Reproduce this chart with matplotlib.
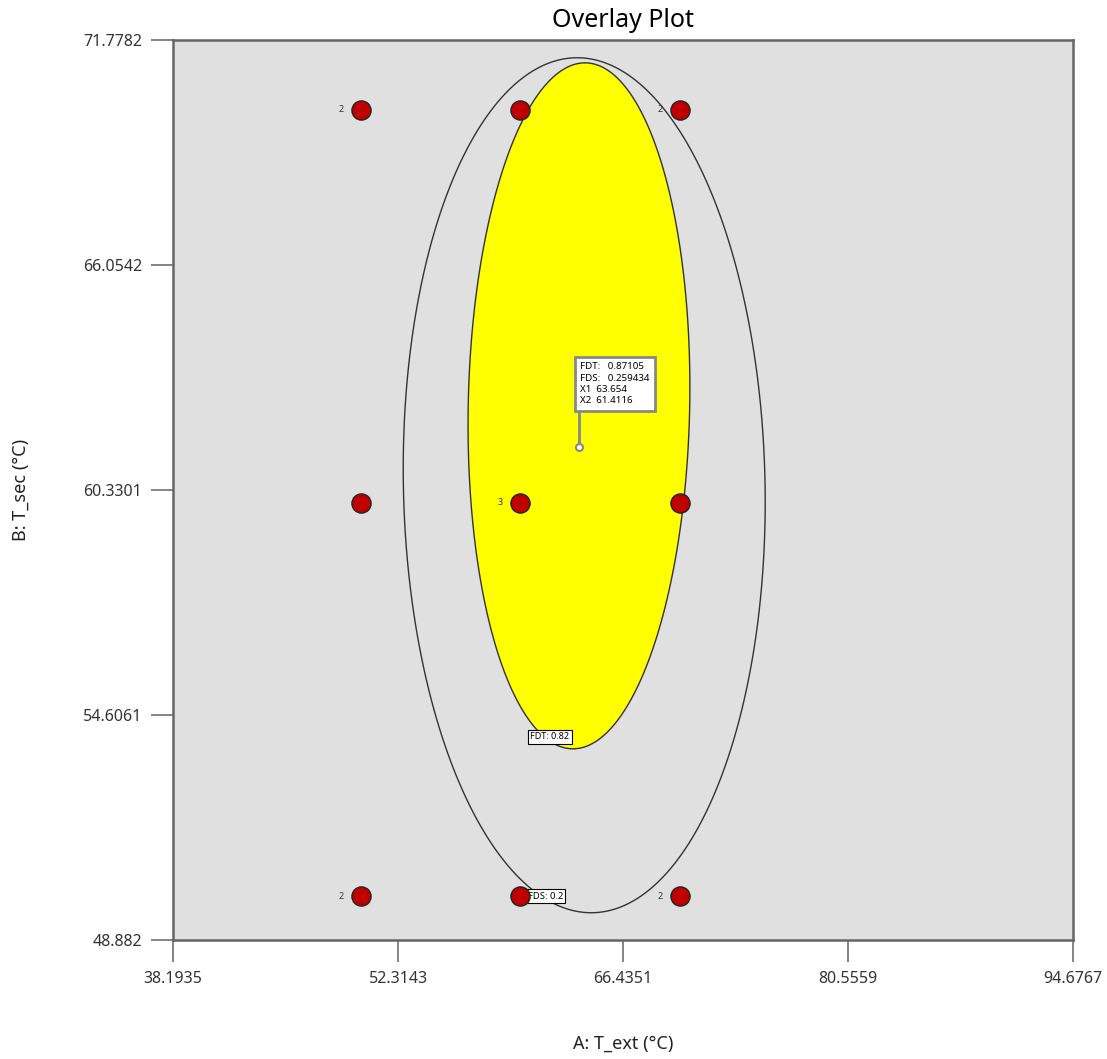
import matplotlib
matplotlib.use("Agg")
import numpy as np
import matplotlib.pyplot as plt
from matplotlib.patches import Polygon

plt.rcParams['font.family'] = ['Noto Sans', 'DejaVu Sans']

# design points (A: T_ext, B: T_sec) and replicate counts
pt_x = [50, 60, 70, 50, 60, 70, 50, 60, 70]
pt_y = [70, 70, 70, 60, 60, 60, 50, 50, 50]
pt_n = [2, 1, 2, 1, 3, 1, 2, 1, 2]

x_ticks = [38.1935, 52.3143, 66.4351, 80.5559, 94.6767]
y_ticks = [48.882, 54.6061, 60.3301, 66.0542, 71.7782]

# contour regions: centre x, centre y, width, height, x-lean of the top
fdt_region = (63.67, 62.47, 13.9, 17.45, 0.38)
fds_region = (64.0, 60.45, 22.7, 21.75, -0.44)

# flag readout
flag_x, flag_y = 63.654, 61.4116
flag_fdt, flag_fds = 0.87105, 0.259434


def region_outline(cx, cy, w, h, lean, n=400):
    t = np.linspace(0, 2 * np.pi, n)
    xs = cx + w / 2 * np.cos(t) + lean * np.sin(t)
    ys = cy + h / 2 * np.sin(t)
    return np.column_stack([xs, ys])


fig = plt.figure(figsize=(11.07, 10.59), dpi=100)
ax = fig.add_axes([0.1563, 0.1124, 0.813, 0.8499])
ax.set_facecolor('#e0e0e0')

ax.add_patch(Polygon(region_outline(*fdt_region), closed=True, facecolor='#ffff00',
                     edgecolor='#333333', lw=1.0, zorder=2))
ax.add_patch(Polygon(region_outline(*fds_region), closed=True, facecolor='none',
                     edgecolor='#333333', lw=1.0, zorder=3))

# contour labels
ax.text(60.62, 54.05, 'FDT: 0.82', fontsize=6.5, ha='left', va='center', zorder=4,
        bbox=dict(boxstyle='square,pad=0.25', fc='white', ec='black', lw=0.8))
ax.text(60.45, 50.0, 'FDS: 0.2', fontsize=6.8, ha='left', va='center', zorder=4,
        bbox=dict(boxstyle='square,pad=0.25', fc='white', ec='black', lw=0.8))

ax.scatter(pt_x, pt_y, s=190, c='#c00000', edgecolors='#222222',
           linewidths=1.0, zorder=5)
for x, y, n in zip(pt_x, pt_y, pt_n):
    if n > 1:
        ax.annotate(str(n), (x, y), xytext=(-14.5, 0), textcoords='offset points',
                    fontsize=6.5, ha='center', va='center', color='#333333', zorder=6)

# flag
ax.plot([flag_x, flag_x], [flag_y, flag_y + 0.87], color='#888888', lw=2, zorder=6)
ax.plot(flag_x, flag_y, 'o', ms=5, mfc='white', mec='#888888', mew=1.5, zorder=7)
flag_text = ('FDT:   %.5f\nFDS:   %.6f\nX1  %.3f\nX2  %.4f'
             % (flag_fdt, flag_fds, flag_x, flag_y))
ax.text(flag_x + 0.08, flag_y + 1.62, flag_text, fontsize=7, ha='left', va='center',
        linespacing=1.35, zorder=7,
        bbox=dict(boxstyle='square,pad=0.55', fc='white', ec='#888888', lw=2))

ax.set_xlim(x_ticks[0], x_ticks[-1])
ax.set_ylim(y_ticks[0], y_ticks[-1])
ax.set_xticks(x_ticks)
ax.set_yticks(y_ticks)
ax.set_xticklabels(['%g' % v for v in x_ticks])
ax.set_yticklabels(['%g' % v for v in y_ticks])
ax.tick_params(direction='out', length=16, width=1.2, color='#707070',
               labelsize=11.5, labelcolor='#333333', pad=6)
for s in ax.spines.values():
    s.set_color('#666666')
    s.set_linewidth(1.8)

ax.set_title('Overlay Plot', fontsize=18, pad=9.5)
ax.set_xlabel('A: T_ext (°C)', fontsize=13, color='#222222')
ax.set_ylabel('B: T_sec (°C)', fontsize=13, color='#222222')
ax.xaxis.set_label_coords(0.5, -0.105)
ax.yaxis.set_label_coords(-0.159, 0.5)

fig.savefig('out.png', dpi=100)
